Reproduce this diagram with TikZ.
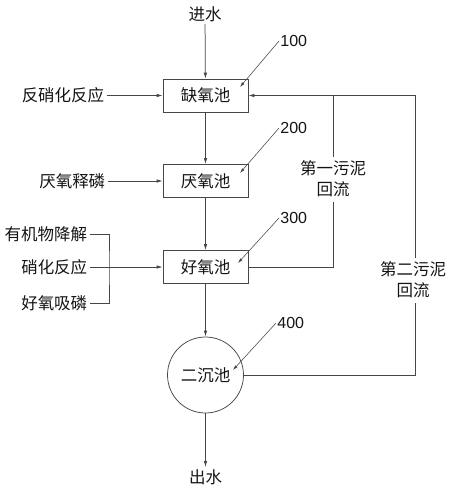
\documentclass[tikz,border=0pt]{standalone}
\usepackage{fontspec}
\setmainfont{Noto Sans CJK SC}
\newfontfamily\numfont{Liberation Sans}
\usetikzlibrary{arrows.meta,positioning}
\definecolor{linegray}{RGB}{70,70,70}
\definecolor{textgray}{RGB}{20,20,20}

\begin{document}
\begin{tikzpicture}[y=-1pt,x=1pt,
	line width=0.75pt,
	txt/.style={font=\fontsize{16.5}{21}\selectfont, text=textgray, inner sep=2pt, align=center},
	tank/.style={txt, draw=linegray, minimum width=85, minimum height=33},
	settler/.style={txt, draw=linegray, circle, minimum size=76},
	refno/.style={font=\numfont\fontsize{16}{18}\selectfont, text=textgray, inner sep=1pt, anchor=west},
	pipe/.style={draw=linegray},
	flow/.style={pipe, -{Latex[length=6pt,width=3.5pt]}},
	lead/.style={draw=linegray, line width=0.55pt, -{Latex[length=5pt,width=3pt]}}]

	\useasboundingbox (0,0) rectangle (450,491);

	% main line
	\node[txt] (inflow) at (205,14) {进水};
	\node[tank] (anoxic) at (205.5,95.5) {缺氧池};
	\node[tank] (anaer) at (205.5,181) {厌氧池};
	\node[tank] (aer) at (205.5,267) {好氧池};
	\node[settler] (clar) at (205.5,375) {二沉池};
	\node[txt] (outflow) at (205.5,477) {出水};

	\draw[flow] (inflow) -- (anoxic);
	\draw[flow] (anoxic) -- (anaer);
	\draw[flow] (anaer) -- (aer);
	\draw[flow] (aer) -- (clar);
	\draw[flow] (clar) -- (outflow);

	% reactions
	\node[txt, left=56pt of anoxic] (denit) {反硝化反应};
	\node[txt, left=55pt of anaer] (prel) {厌氧释磷};
	\node[txt, left=73pt of aer] (nit) {硝化反应};
	\node[txt, anchor=east] (org) at (nit.east |- 0,234) {有机物降解};
	\node[txt, anchor=east] (pup) at (nit.east |- 0,303) {好氧吸磷};
	\coordinate (brk) at (109,267);

	\draw[flow] (denit) -- (anoxic);
	\draw[flow] (prel) -- (anaer);
	\draw[flow] (nit) -- (aer);
	\draw[pipe] (org.east) -| (brk) |- (pup.east);

	% sludge return
	\node[txt, inner sep=4pt] (ret1) at (333,179) {第一污泥\\回流};
	\node[txt, inner sep=4pt] (ret2) at (413,280) {第二污泥\\回流};
	\coordinate (r2) at (415,95.5);

	\draw[pipe] (aer.east) -| (ret1.south);
	\draw[flow] (ret1.north) |- (anoxic.east);
	\draw[pipe] (clar.east) -| (ret2.south -| r2);
	\draw[pipe] (ret2.north -| r2) -- (r2) -- (ret1.north |- r2);

	% reference numbers
	\node[refno] (n100) at (279,41) {100};
	\node[refno] (n200) at (279,128) {200};
	\node[refno] (n300) at (279,218) {300};
	\node[refno] (n400) at (276,323) {400};
	\coordinate (t100) at (240,87);
	\coordinate (t200) at (240,173);
	\coordinate (t300) at (238,263);
	\coordinate (t400) at (233,370);
	\draw[lead] (n100.west) -- (t100);
	\draw[lead] (n200.west) -- (t200);
	\draw[lead] (n300.west) -- (t300);
	\draw[lead] (n400.west) -- (t400);

\end{tikzpicture}
\end{document}
